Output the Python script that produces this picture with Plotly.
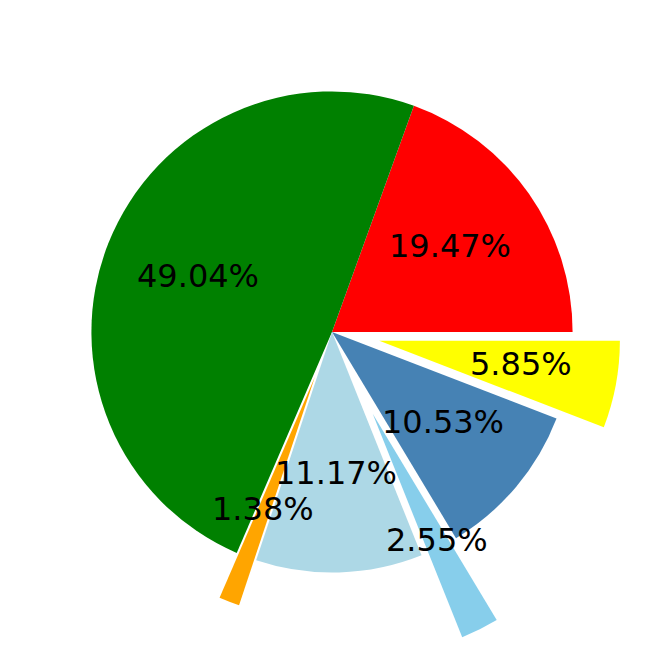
import math
import plotly.graph_objects as go

labels = ["A", "B", "C", "D", "E", "F", "G"]
values = [19.47, 49.04, 1.38, 11.17, 2.55, 10.53, 5.85]
colors = ["red", "green", "orange", "lightblue", "skyblue", "steelblue", "yellow"]
pulls = [0, 0, 0.2, 0, 0.38, 0, 0.2]

W = H = 664
total = sum(values)
# plotly puts the first ccw slice clockwise of `rotation`, so offset by it
rot = 90 - values[0] / total * 360

fig = go.Figure(go.Pie(
    labels=labels, values=values, sort=False,
    direction="counterclockwise", rotation=rot,
    pull=pulls, marker=dict(colors=colors, line=dict(width=0)),
    textinfo="none", hoverinfo="skip", showlegend=False,
    domain=dict(x=[0, 1], y=[0, 1]),
))

# percent labels placed like matplotlib (pctdistance 0.6 + explode)
r = min(W, H) / (2 * (1 + max(pulls)))
cum = 0
for v, p in zip(values, pulls):
    mid = (cum + v / 2) / total * 2 * math.pi
    cum += v
    d = (0.6 + p) * r
    fig.add_annotation(
        x=0.5 + d * math.cos(mid) / W, y=0.5 + d * math.sin(mid) / H,
        xref="paper", yref="paper", showarrow=False,
        text=f"{v / total * 100:.2f}%",
        font=dict(family="DejaVu Sans", size=32, color="black"),
        xanchor="center", yanchor="middle", yshift=3,
    )

fig.update_layout(width=W, height=H, margin=dict(l=0, r=0, t=0, b=0),
                  paper_bgcolor="white", plot_bgcolor="white")
fig.write_html("out.html", config={"displayModeBar": False},
               post_script="document.body.style.margin='0';")
